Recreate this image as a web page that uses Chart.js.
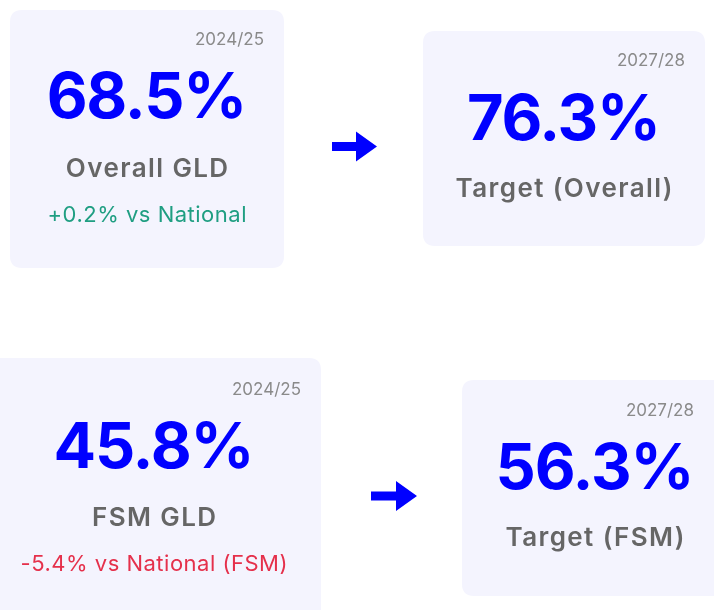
<!DOCTYPE html>
<html><head><meta charset="utf-8">
<script src="https://cdn.jsdelivr.net/npm/chart.js@4"></script>
<style>html,body{margin:0;padding:0;background:#fff;overflow:hidden}canvas{display:block}</style>
</head><body>
<canvas id="c" width="714" height="610"></canvas>
<script>
// ---- data ----
const values = [68.5, 76.3, 45.8, 56.3];
const labels = ["Overall GLD", "Target (Overall)", "FSM GLD", "Target (FSM)"];
const years = ["2024/25", "2027/28", "2024/25", "2027/28"];
const deltas = [0.2, null, -5.4, null];
const deltaText = ["vs National", "", "vs National (FSM)", ""];

// ---- layout (positions / sizes only) ----
const cards = [
  {x0: 10, y0: 10, x1: 284, y1: 268, yearB: 45, valB: 118, labB: 177, cmpB: 222},
  {x0: 423, y0: 31, x1: 705, y1: 246, yearB: 66, valB: 140, labB: 197, cmpB: 0},
  {x0: -13, y0: 358, x1: 321, y1: 630, yearB: 395, valB: 468, labB: 526, cmpB: 571},
  {x0: 462, y0: 380, x1: 728, y1: 596, yearB: 416, valB: 489, labB: 546, cmpB: 0}
];
const arrows = [
  {x0: 332, x1: 377, y: 146.5, head: 356},
  {x0: 371, x1: 417, y: 496, head: 396}
];

const FONT = "Inter, 'Noto Sans', sans-serif";
const COL = {bg: '#f4f4fe', blue: '#0000ff', label: '#666666', year: '#8a8a8a', up: '#1f9e82', down: '#e5304b'};

function rr(ctx, x, y, w, h, r) {
  ctx.beginPath();
  ctx.moveTo(x + r, y);
  ctx.lineTo(x + w - r, y); ctx.quadraticCurveTo(x + w, y, x + w, y + r);
  ctx.lineTo(x + w, y + h - r); ctx.quadraticCurveTo(x + w, y + h, x + w - r, y + h);
  ctx.lineTo(x + r, y + h); ctx.quadraticCurveTo(x, y + h, x, y + h - r);
  ctx.lineTo(x, y + r); ctx.quadraticCurveTo(x, y, x + r, y);
  ctx.closePath();
}

function centeredText(ctx, s, cx, y, spacing) {
  ctx.letterSpacing = spacing + 'px';
  const w = ctx.measureText(s).width - spacing;
  ctx.textAlign = 'left';
  ctx.fillText(s, cx - w / 2, y);
  ctx.letterSpacing = '0px';
}

const kpiPlugin = {
  id: 'kpi',
  afterDraw(chart) {
    const ctx = chart.ctx, sx = chart.scales.x, sy = chart.scales.y;
    const X = v => sx.getPixelForValue(v), Y = v => sy.getPixelForValue(v);
    ctx.save();
    cards.forEach((c, i) => {
      const x0 = X(c.x0), x1 = X(c.x1), y0 = Y(c.y0), y1 = Y(c.y1);
      const cx = (x0 + x1) / 2;
      ctx.fillStyle = COL.bg;
      rr(ctx, x0, y0, x1 - x0, y1 - y0, 12);
      ctx.fill();
      ctx.textBaseline = 'alphabetic';
      // year
      ctx.fillStyle = COL.year;
      ctx.font = "400 17px " + FONT;
      ctx.textAlign = 'right';
      ctx.fillText(years[i], Math.min(x1, 714) - 20, Y(c.yearB));
      // value
      ctx.fillStyle = COL.blue;
      ctx.font = "700 63px " + FONT;
      centeredText(ctx, values[i].toFixed(1) + '%', cx, Y(c.valB), -1.2);
      // label
      ctx.fillStyle = COL.label;
      ctx.font = "600 26px " + FONT;
      centeredText(ctx, labels[i], cx, Y(c.labB), 1.4);
      // delta
      if (deltas[i] !== null) {
        ctx.fillStyle = deltas[i] >= 0 ? COL.up : COL.down;
        ctx.font = "400 22px " + FONT;
        const s = (deltas[i] >= 0 ? '+' : '') + deltas[i].toFixed(1) + '% ' + deltaText[i];
        centeredText(ctx, s, cx, Y(c.cmpB), 0.5);
      }
    });
    // arrows
    ctx.fillStyle = COL.blue;
    arrows.forEach(a => {
      const y = Y(a.y), x0 = X(a.x0), x1 = X(a.x1), h = X(a.head);
      ctx.beginPath();
      ctx.moveTo(x0, y - 4.5);
      ctx.lineTo(h, y - 4.5);
      ctx.lineTo(h, y - 15);
      ctx.lineTo(x1, y);
      ctx.lineTo(h, y + 15);
      ctx.lineTo(h, y + 4.5);
      ctx.lineTo(x0, y + 4.5);
      ctx.closePath();
      ctx.fill();
    });
    ctx.restore();
  }
};

new Chart(document.getElementById('c'), {
  type: 'scatter',
  data: {datasets: [{data: [], pointRadius: 0}]},
  options: {
    responsive: false,
    animation: false,
    layout: {padding: 0},
    plugins: {legend: {display: false}, tooltip: {enabled: false}},
    scales: {
      x: {type: 'linear', min: 0, max: 714, display: false},
      y: {type: 'linear', min: 0, max: 610, reverse: true, display: false}
    }
  },
  plugins: [kpiPlugin]
});
</script>
</body></html>
